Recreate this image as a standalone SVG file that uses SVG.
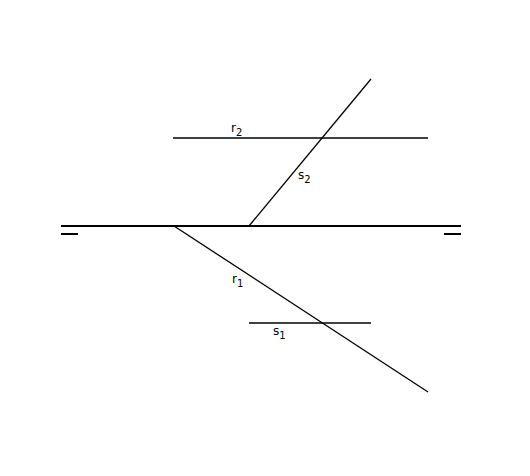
<svg xmlns="http://www.w3.org/2000/svg" width="530" height="476" viewBox="0 0 530 476">
<style>
.l{stroke:#000;stroke-width:1.3;fill:none}
.g{stroke:#000;stroke-width:2;fill:none}
text{font-family:"DejaVu Sans",sans-serif;font-size:12px;fill:#000}
.sub{font-size:10px}
</style>
<rect width="530" height="476" fill="#fff"/>
<g id="connectors">
<line class="g" x1="61" y1="226" x2="461" y2="226"/>
<line class="g" x1="61" y1="234" x2="78" y2="234"/>
<line class="g" x1="444" y1="234" x2="461" y2="234"/>
<line class="l" x1="173" y1="138" x2="428" y2="138"/>
<line class="l" x1="249" y1="226" x2="371" y2="79"/>
<line class="l" x1="174" y1="226" x2="428" y2="392"/>
<line class="l" x1="249" y1="323" x2="371" y2="323"/>
</g>
<g id="label-r2"><text x="231" y="132">r<tspan class="sub" dy="4">2</tspan></text></g>
<g id="label-s2"><text x="298" y="179">s<tspan class="sub" dy="4">2</tspan></text></g>
<g id="label-r1"><text x="232" y="283">r<tspan class="sub" dy="4">1</tspan></text></g>
<g id="label-s1"><text x="273" y="335">s<tspan class="sub" dy="4">1</tspan></text></g>
</svg>
